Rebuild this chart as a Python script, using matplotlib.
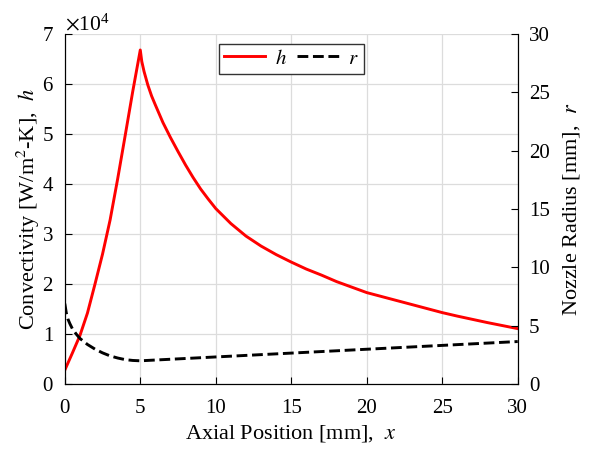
import matplotlib
matplotlib.use("Agg")
from matplotlib import pyplot as plt
from matplotlib.ticker import ScalarFormatter

plt.rcParams['font.family'] = ['Liberation Serif', 'DejaVu Serif']
plt.rcParams['mathtext.fontset'] = 'stix'

# convectivity h [W/m^2-K] along the axis
x_h = [0, 0.5, 1.0, 1.5, 2.0, 2.5, 3.0, 3.5, 4.0, 4.5, 5.0,
       5.1, 5.25, 5.5, 5.75, 6.0, 6.5, 7.0, 7.5, 8.0, 8.5, 9.0, 9.5, 10, 11, 12, 13, 14,
       15, 16, 17, 18, 19, 20, 22, 24, 25, 26, 28, 30]
h = [2800, 6200, 9700, 14200, 20000, 26000, 32800, 41000, 49700, 58500, 66800,
     64500, 62500, 59800, 57600, 55800, 52300, 49300, 46500, 43800, 41300, 39000,
     37000, 35100, 32100, 29600, 27600, 25900, 24400, 23000, 21800, 20500, 19400,
     18300, 16700, 15100, 14300, 13600, 12300, 11100]

# nozzle radius r [mm]
x_r = [0, 0.1, 0.2, 0.33, 0.5, 0.75, 1.0, 1.5, 2.0, 2.5, 3.0, 3.5, 4.0, 4.5, 5.0,
       10, 15, 20, 25, 30]
r = [6.9, 6.1, 5.6, 5.2, 4.75, 4.3, 3.92, 3.4, 3.0, 2.68, 2.42, 2.24, 2.1, 2.03, 2.0,
     2.33, 2.66, 2.99, 3.32, 3.65]

fig = plt.figure(figsize=(5.89, 4.53), dpi=100)
ax1 = fig.add_axes([0.110, 0.152, 0.769, 0.773])
ax2 = ax1.twinx()

l1, = ax1.plot(x_h, h, color='red', lw=2.1, label='$h$')
l2, = ax2.plot(x_r, r, color='black', lw=2.1, ls='--', label='$r$')

ax1.set_xlim(0, 30)
ax1.set_ylim(0, 70000)
ax2.set_ylim(0, 30)
ax1.set_xticks(range(0, 31, 5))
ax1.set_yticks(range(0, 70001, 10000))
ax2.set_yticks(range(0, 31, 5))

fmt = ScalarFormatter(useMathText=True)
fmt.set_powerlimits((0, 0))
ax1.yaxis.set_major_formatter(fmt)

ax1.grid(True, color='#dcdcdc', lw=0.9)
ax1.set_axisbelow(True)

for ax in (ax1, ax2):
    ax.tick_params(direction='in', length=5, labelsize=15, pad=8)
    ax.spines['top'].set_visible(False)
ax1.tick_params(axis='x', pad=11)
ax1.yaxis.get_offset_text().set_fontsize(15.5)

ax1.set_xlabel('Axial Position [mm],  $x$', fontsize=16, labelpad=3)
ax1.set_ylabel('Convectivity [W/m$^2$-K],  $h$', fontsize=16, labelpad=0)
ax2.set_ylabel('Nozzle Radius [mm],  $r$', fontsize=16, labelpad=8)

leg = ax1.legend([l1, l2], ['$h$', '$r$'], loc='upper center', bbox_to_anchor=(0.5, 0.972),
                 ncol=2, fontsize=15, frameon=True, fancybox=False, handlelength=2.0,
                 columnspacing=0.5, handletextpad=0.45, borderpad=0.25, borderaxespad=0)
leg.get_frame().set_edgecolor('#333333')
leg.get_frame().set_linewidth(1.0)
leg.get_frame().set_alpha(1)

plt.savefig("out.png", dpi=100)
